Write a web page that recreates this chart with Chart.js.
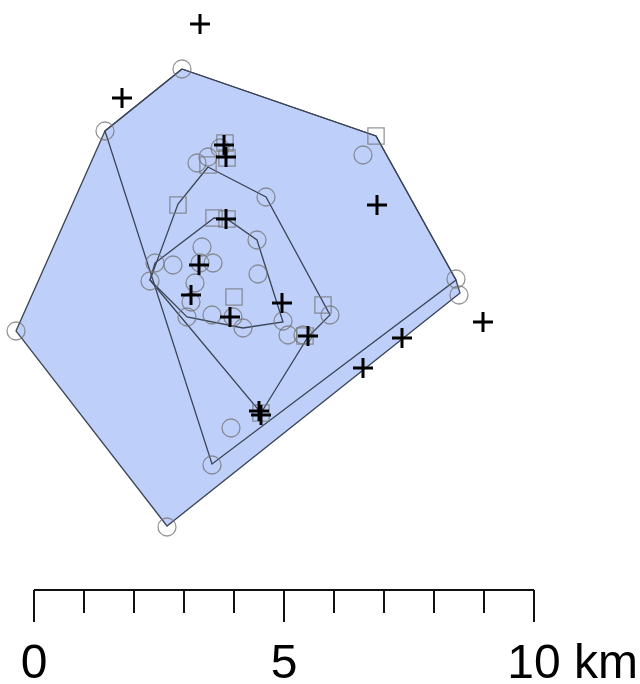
<!DOCTYPE html>
<html>
<head>
<meta charset="utf-8">
<script src="https://cdn.jsdelivr.net/npm/chart.js@4.4.1/dist/chart.umd.min.js"></script>
<style>
  html, body { margin: 0; padding: 0; background: #fff; }
  #wrap { width: 640px; height: 684px; }
</style>
</head>
<body>
<div id="wrap"><canvas id="map" width="640" height="684"></canvas></div>
<script>
// all positions in km, origin = left end of the scale bar
var hullOuter = [[2.96,10.42],[6.84,9.08],[8.44,6.20],[8.52,5.94],[2.66,1.28],[-0.36,5.18],[1.42,9.18],[2.96,10.42]];
var hull95 = [[2.96,10.42],[6.84,9.08],[8.44,6.20],[3.56,2.52],[1.42,9.18],[2.96,10.42]];
var hull75 = [[3.48,8.46],[4.64,7.86],[5.92,5.50],[5.48,5.06],[4.54,3.54],[2.32,6.20],[2.88,7.72],[3.48,8.46]];
var hull50 = [[2.42,6.54],[3.60,7.44],[3.86,7.42],[4.46,7.00],[4.98,5.36],[4.18,5.24],[3.06,5.46],[2.32,6.20],[2.42,6.54]];

var plusPts = [[3.32,11.32],[1.76,9.84],[3.80,8.90],[3.84,8.66],[6.86,7.70],[3.84,7.42],[3.30,6.50],
  [3.14,5.90],[4.96,5.74],[3.92,5.46],[5.48,5.08],[7.36,5.04],[8.98,5.36],[6.58,4.44],[4.50,3.58],[4.54,3.50]];
var circlePts = [[2.96,10.42],[1.42,9.18],[6.58,8.70],[-0.36,5.18],[2.66,1.26],[8.44,6.22],[8.50,5.90],
  [3.56,2.50],[3.94,3.24],[4.64,7.86],[4.46,7.00],[4.48,6.32],[3.26,8.54],[3.48,8.66],[3.72,8.84],
  [3.36,6.86],[3.58,6.54],[3.32,6.54],[2.78,6.50],[2.42,6.54],[2.32,6.18],[3.22,6.14],[3.14,5.76],
  [3.06,5.46],[3.56,5.50],[3.98,5.46],[4.18,5.24],[4.98,5.38],[5.08,5.10],[5.38,5.10],[5.92,5.50]];
var squarePts = [[6.84,9.08],[3.82,8.94],[3.86,8.64],[3.48,8.50],[2.88,7.70],[3.60,7.44],[3.86,7.42],
  [4.00,5.86],[5.78,5.70],[5.42,5.08],[4.54,3.54]];

var barTicks = [0,1,2,3,4,5,6,7,8,9,10];
var barMajor = [0,5,10];
var barLabelAt = [0,5,10];
var barLabels = ['0','5','10 km'];

var MINOR_LEN = 0.46, MAJOR_LEN = 0.64;

function xy(list) {
  return list.map(function (p) { return {x: p[0], y: p[1]}; });
}

function tickSegments() {
  var out = [];
  barTicks.forEach(function (t) {
    var len = barMajor.indexOf(t) >= 0 ? MAJOR_LEN : MINOR_LEN;
    out.push({x: t, y: 0}, {x: t, y: -len}, {x: t, y: null});
  });
  return out;
}

function hullSet(list, filled, order) {
  return {
    type: 'line',
    data: xy(list),
    borderColor: '#3c4556',
    borderWidth: 1.3,
    backgroundColor: 'rgb(190,208,250)',
    fill: filled ? 'shape' : false,
    pointRadius: 0,
    tension: 0,
    order: order
  };
}

var scaleBarText = {
  id: 'scaleBarText',
  afterDatasetsDraw: function (chart) {
    var ctx = chart.ctx, xs = chart.scales.x, ys = chart.scales.y;
    ctx.save();
    ctx.font = '48px "Liberation Sans", Arial, sans-serif';
    ctx.fillStyle = '#000';
    ctx.textAlign = 'left';
    ctx.textBaseline = 'alphabetic';
    barLabelAt.forEach(function (v, i) {
      var txt = barLabels[i];
      var num = txt.split(' ')[0];
      var left = xs.getPixelForValue(v) - ctx.measureText(num).width / 2;
      ctx.fillText(txt, left, ys.getPixelForValue(0) + 88);
    });
    ctx.restore();
  }
};

new Chart(document.getElementById('map'), {
  type: 'scatter',
  data: {
    datasets: [
      {
        data: xy(plusPts),
        pointStyle: 'cross',
        pointRadius: 10,
        pointBorderWidth: 3,
        pointBorderColor: '#000',
        order: 0
      },
      {
        data: xy(circlePts),
        pointStyle: 'circle',
        pointRadius: 9,
        pointBorderWidth: 1.3,
        pointBorderColor: 'rgba(115,115,115,0.75)',
        pointBackgroundColor: 'rgba(0,0,0,0)',
        order: 1
      },
      {
        data: xy(squarePts),
        pointStyle: 'rect',
        pointRadius: 11.5,
        pointBorderWidth: 1.3,
        pointBorderColor: 'rgba(115,115,115,0.75)',
        pointBackgroundColor: 'rgba(0,0,0,0)',
        order: 1
      },
      hullSet(hull50, false, 2),
      hullSet(hull75, false, 3),
      hullSet(hull95, false, 4),
      hullSet(hullOuter, true, 5),
      {
        type: 'line',
        data: [{x: 0, y: 0}, {x: 10, y: 0}],
        borderColor: '#111',
        borderWidth: 2,
        pointRadius: 0,
        order: 6
      },
      {
        type: 'line',
        data: tickSegments(),
        borderColor: '#111',
        borderWidth: 2,
        pointRadius: 0,
        spanGaps: false,
        order: 6
      }
    ]
  },
  options: {
    responsive: false,
    animation: false,
    devicePixelRatio: 1,
    events: [],
    layout: { padding: 0, autoPadding: false },
    plugins: { legend: { display: false }, tooltip: { enabled: false } },
    scales: {
      x: { type: 'linear', display: false, min: -0.68, max: 12.12 },
      y: { type: 'linear', display: false, min: -1.88, max: 11.8 }
    },
    elements: { line: { borderCapStyle: 'butt' } }
  },
  plugins: [scaleBarText]
});
</script>
</body>
</html>
